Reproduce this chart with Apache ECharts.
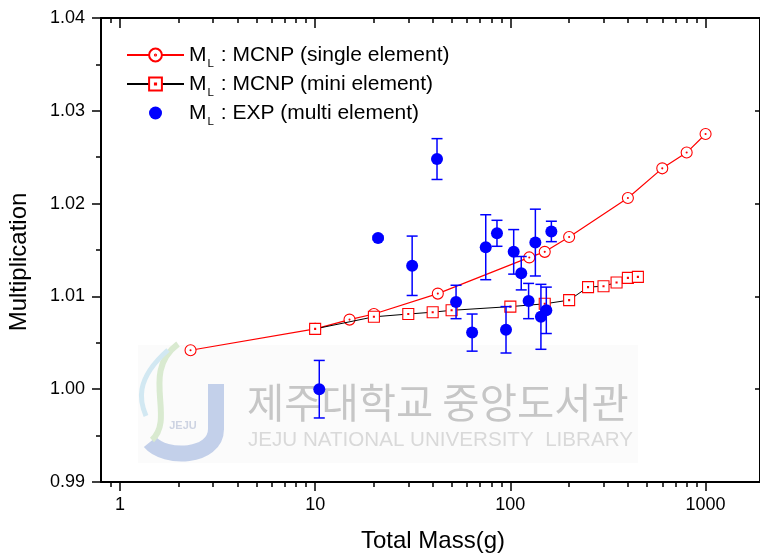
<!DOCTYPE html>
<html><head><meta charset="utf-8">
<script src="https://cdn.jsdelivr.net/npm/echarts@6/dist/echarts.min.js"></script>
<style>html,body{margin:0;padding:0;background:#fff}#c{width:760px;height:556px}</style>
</head><body><div id="c"></div>
<script>
// ---- data ----
const singleMass = [2.3, 10, 15, 20, 42.5, 125, 150, 200, 400, 600, 800, 1000];
const singleMult = [1.0042, 1.0065, 1.0075, 1.0081, 1.0103, 1.0142, 1.0148, 1.0164, 1.0206, 1.0238, 1.0255, 1.0275];
const miniMass = [10, 20, 30, 40, 50, 100, 150, 200, 250, 300, 350, 400, 450];
const miniMult = [1.0065, 1.0078, 1.0081, 1.0083, 1.0085, 1.0089, 1.0092, 1.0096, 1.0110, 1.0111, 1.0115, 1.0120, 1.0121];
const expMass = [10.5, 21, 31.4, 42.1, 52.7, 63.7, 74.8, 85.4, 95, 104, 113.7, 124, 134.3, 143.4, 152.8, 162.2];
const expMult = [1.0000, 1.0163, 1.0133, 1.0248, 1.0094, 1.0061, 1.0153, 1.0168, 1.0064, 1.0148, 1.0125, 1.0095, 1.0158, 1.0078, 1.0085, 1.0170];
const expErr  = [0.0031, 0.0002, 0.0032, 0.0022, 0.0018, 0.0020, 0.0035, 0.0014, 0.0025, 0.0024, 0.0018, 0.0019, 0.0036, 0.0035, 0.0025, 0.0011];
const xMajorTicks = [1, 10, 100, 1000];
const xMinorTicks = [0.9, 2, 3, 4, 5, 6, 7, 8, 9, 20, 30, 40, 50, 60, 70, 80, 90, 200, 300, 400, 500, 600, 700, 800, 900];
const seriesNames = ['M_L : MCNP (single element)', 'M_L : MCNP (mini element)', 'M_L : EXP (multi element)'];

const FONT = 'Liberation Sans, Arial, Helvetica, sans-serif';
const X_MIN = 0.8, X_MAX = 1900, Y_MIN = 0.99, Y_MAX = 1.04, Y_STEP = 0.01;

const circlePath = 'path://M0,-10A10,10,0,1,1,0,10A10,10,0,1,1,0,-10ZM0,-0.9A0.9,0.9,0,1,1,0,0.9A0.9,0.9,0,1,1,0,-0.9Z';
const squarePath = 'path://M-10,-10H10V10H-10ZM-0.9,-0.9H0.9V0.9H-0.9Z';
// legend dot: 13px circle inside a 16px box
const legendDotPath = 'path://M-8,-8M8,8M0,-6.5A6.5,6.5,0,1,1,0,6.5A6.5,6.5,0,1,1,0,-6.5Z';

const zip = (a, b) => a.map((v, i) => [v, b[i]]);
const expErrData = expMass.map((v, i) => [v, expMult[i], expErr[i]]);

const chart = echarts.init(document.getElementById('c'), null, {renderer: 'canvas'});
const axisLineStyle = {color: '#000', width: 2};
const tickStyle = {color: '#000', width: 1.5};
const mid = {align: 'center', textAlign: 'center', verticalAlign: 'middle', textVerticalAlign: 'middle'};
const leftMid = {align: 'left', textAlign: 'left', verticalAlign: 'middle', textVerticalAlign: 'middle'};

const option = {
  backgroundColor: '#fff',
  animation: false,
  grid: {left: 101, top: 18, right: -1, bottom: 74, containLabel: false},
  legend: {
    orient: 'vertical', left: 126, top: 40, padding: 0,
    itemWidth: 57, itemHeight: 16, itemGap: -1,
    data: [
      {name: seriesNames[0]},
      {name: seriesNames[1]},
      {name: seriesNames[2], icon: legendDotPath}
    ],
    formatter: n => n.replace('M_L', 'M{sub|L}'),
    textStyle: {
      fontFamily: FONT, fontSize: 21, color: '#000', lineHeight: 20,
      rich: {sub: {fontFamily: FONT, fontSize: 11.5, lineHeight: 11, padding: [18, 1, 0, 1], color: '#000'}}
    }
  },
  xAxis: [
    { type: 'log', logBase: 10, min: X_MIN, max: X_MAX, position: 'bottom',
      axisLine: {show: true, lineStyle: axisLineStyle},
      axisTick: {show: true, inside: false, length: 9, lineStyle: tickStyle, customValues: xMajorTicks},
      axisLabel: {show: true, customValues: xMajorTicks,
        fontFamily: FONT, fontSize: 18, color: '#000', margin: 14, formatter: v => String(v)},
      splitLine: {show: false} },
    { type: 'log', logBase: 10, min: X_MIN, max: X_MAX, position: 'bottom',
      axisLine: {show: false},
      axisTick: {show: true, inside: false, length: 5, lineStyle: tickStyle, customValues: xMinorTicks},
      axisLabel: {show: false}, splitLine: {show: false} },
    { type: 'log', logBase: 10, min: X_MIN, max: X_MAX, position: 'top',
      axisLine: {show: true, lineStyle: axisLineStyle},
      axisTick: {show: true, inside: true, length: 10, lineStyle: tickStyle, customValues: xMajorTicks},
      axisLabel: {show: false}, splitLine: {show: false} },
    { type: 'log', logBase: 10, min: X_MIN, max: X_MAX, position: 'top',
      axisLine: {show: false},
      axisTick: {show: true, inside: true, length: 5, lineStyle: tickStyle, customValues: xMinorTicks},
      axisLabel: {show: false}, splitLine: {show: false} }
  ],
  yAxis: [
    { type: 'value', min: Y_MIN, max: Y_MAX, interval: Y_STEP, position: 'left',
      axisLine: {show: true, lineStyle: axisLineStyle},
      axisTick: {show: true, inside: false, length: 9, lineStyle: tickStyle},
      minorTick: {show: true, splitNumber: 2, length: 5, lineStyle: tickStyle},
      axisLabel: {fontFamily: FONT, fontSize: 18, color: '#000', margin: 16, formatter: v => v.toFixed(2)},
      splitLine: {show: false} },
    { type: 'value', min: Y_MIN, max: Y_MAX, interval: Y_STEP, position: 'right',
      axisLine: {show: true, lineStyle: axisLineStyle},
      axisTick: {show: true, inside: true, length: 5, lineStyle: tickStyle},
      axisLabel: {show: false}, splitLine: {show: false} }
  ],
  graphic: [
    // watermark (library logo + name)
    {type: 'rect', z: 0, silent: true, shape: {x: 138, y: 345, width: 500, height: 118},
      style: {fill: '#fbfbfb'}},
    {type: 'line', z: 0, silent: true, shape: {x1: 216, y1: 384, x2: 216, y2: 430},
      style: {stroke: '#c3d0ea', lineWidth: 16}},
    {type: 'bezierCurve', z: 0, silent: true,
      shape: {x1: 216, y1: 429, cpx1: 216, cpy1: 458, cpx2: 165, cpy2: 460, x2: 150, y2: 442},
      style: {fill: 'none', stroke: '#c3d0ea', lineWidth: 16}},
    {type: 'bezierCurve', z: 0, silent: true,
      shape: {x1: 178, y1: 344, cpx1: 140, cpy1: 372, cpx2: 176, cpy2: 418, x2: 152, y2: 440},
      style: {fill: 'none', stroke: '#d9ead0', lineWidth: 6}},
    {type: 'bezierCurve', z: 0, silent: true,
      shape: {x1: 168, y1: 350, cpx1: 134, cpy1: 380, cpx2: 140, cpy2: 402, x2: 146, y2: 416},
      style: {fill: 'none', stroke: '#d2e8f2', lineWidth: 5}},
    {type: 'text', z: 0, silent: true, x: 183, y: 426,
      style: Object.assign({text: 'JEJU', fontFamily: FONT, fontSize: 11, fontWeight: 'bold', fill: '#cdd3e2'}, mid)},
    {type: 'text', z: 0, silent: true, x: 247, y: 403,
      style: Object.assign({text: '제주대학교 중앙도서관', fontFamily: 'Noto Sans CJK KR', fontSize: 40.5, fill: '#c6c6c6'}, leftMid)},
    {type: 'text', z: 0, silent: true, x: 248, y: 440,
      style: Object.assign({text: 'JEJU NATIONAL UNIVERSITY  LIBRARY', fontFamily: FONT, fontSize: 20.6, fill: '#d9d9d9'}, leftMid)},
    // axis titles
    {type: 'text', x: 433, y: 541,
      style: Object.assign({text: 'Total Mass(g)', fontFamily: FONT, fontSize: 24, fill: '#000'}, mid)},
    {type: 'text', x: 19, y: 262, rotation: Math.PI / 2,
      style: Object.assign({text: 'Multiplication', fontFamily: FONT, fontSize: 24, fill: '#000'}, mid)}
  ],
  series: [
    { name: seriesNames[0], type: 'line', xAxisIndex: 0, yAxisIndex: 0,
      data: zip(singleMass, singleMult),
      symbol: circlePath, symbolSize: 11, showAllSymbol: true,
      lineStyle: {color: '#ff0000', width: 1.2},
      itemStyle: {color: '#ffffff', borderColor: '#ff0000', borderWidth: 1.1},
      z: 2 },
    { name: seriesNames[1], type: 'line', xAxisIndex: 0, yAxisIndex: 0,
      data: zip(miniMass, miniMult),
      symbol: squarePath, symbolSize: 11, showAllSymbol: true,
      lineStyle: {color: '#000000', width: 1},
      itemStyle: {color: '#ffffff', borderColor: '#ff0000', borderWidth: 1.1},
      z: 3 },
    { name: seriesNames[2] + ' err', type: 'custom', xAxisIndex: 0, yAxisIndex: 0,
      data: expErrData, encode: {x: 0, y: 1}, z: 4,
      renderItem: (params, api) => {
        const x = api.value(0), y = api.value(1), e = api.value(2);
        const t = api.coord([x, y + e]), b = api.coord([x, y - e]);
        const w = 5.5, st = {stroke: '#0000ff', lineWidth: 1.5};
        return {type: 'group', children: [
          {type: 'line', shape: {x1: t[0], y1: t[1], x2: b[0], y2: b[1]}, style: st},
          {type: 'line', shape: {x1: t[0] - w, y1: t[1], x2: t[0] + w, y2: t[1]}, style: st},
          {type: 'line', shape: {x1: b[0] - w, y1: b[1], x2: b[0] + w, y2: b[1]}, style: st}
        ]};
      } },
    { name: seriesNames[2], type: 'scatter', xAxisIndex: 0, yAxisIndex: 0,
      data: zip(expMass, expMult),
      symbol: 'circle', symbolSize: 12,
      itemStyle: {color: '#0000ff', opacity: 1}, z: 5 }
  ]
};
chart.setOption(option);
</script>
</body></html>
